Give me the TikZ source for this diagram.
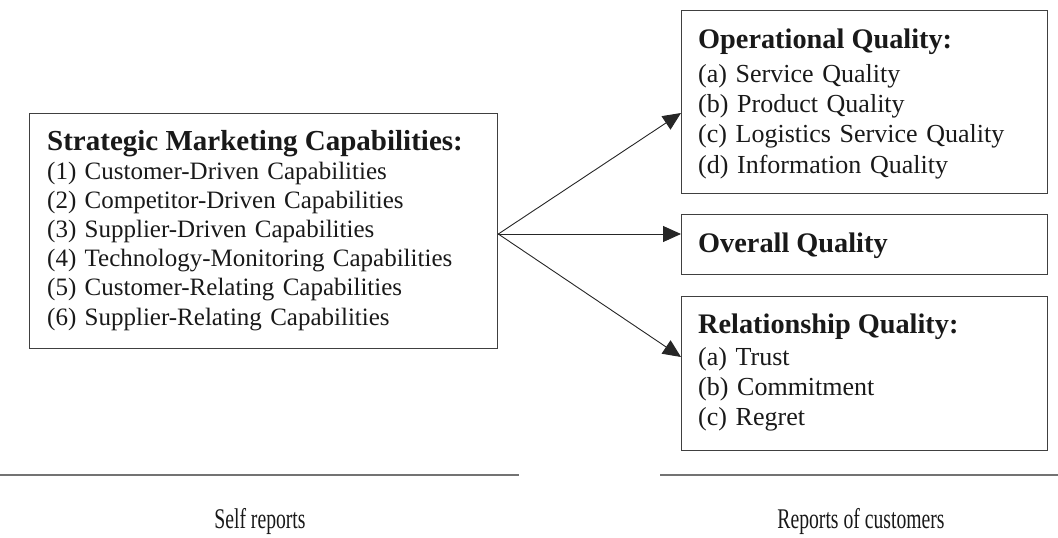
\documentclass[tikz,border=0pt]{standalone}
\usepackage{fontspec}
\setmainfont{Liberation Serif}
\usetikzlibrary{arrows.meta}

\tikzset{
  box/.style={draw=black!75, line width=1.3pt, rectangle, inner sep=0pt, anchor=north west},
  headtext/.style={anchor=base west, inner sep=0pt, text=black!90, font=\bfseries\fontsize{29}{33}\selectfont},
  headtextR/.style={anchor=base west, inner sep=0pt, text=black!90, font=\bfseries\fontsize{28.3}{33}\selectfont},
  listL/.style={anchor=base west, inner sep=0pt, text=black!90, text width=440pt, align=left, font=\fontsize{25}{29.2}\selectfont},
  listR/.style={anchor=base west, inner sep=0pt, text=black!90, text width=340pt, align=left, font=\fontsize{26}{30.4}\selectfont},
  flow/.style={draw=black!85, line width=0.9pt, -{Triangle[length=18pt, width=16pt]}},
  rule/.style={draw=black!55, line width=2pt},
  caption/.style={anchor=base, inner sep=0pt, text=black!90, font=\fontsize{28.5}{32}\selectfont}
}

\begin{document}
\begin{tikzpicture}[x=1pt, y=-1pt]
  \useasboundingbox (0,0) rectangle (1058,538);

  % left block: capabilities (self reported)
  \node[box, minimum width=468pt, minimum height=235pt] (smc) at (29,113) {};
  \node[headtext] (smctitle) at (47,150) {Strategic Marketing Capabilities:};
  \node[listL] (smclist) at (47,179) {%
    (1) Customer-Driven Capabilities\\
    (2) Competitor-Driven Capabilities\\
    (3) Supplier-Driven Capabilities\\
    (4) Technology-Monitoring Capabilities\\
    (5) Customer-Relating Capabilities\\
    (6) Supplier-Relating Capabilities};

  % right blocks: quality outcomes (customer reported)
  \node[box, minimum width=366pt, minimum height=183pt] (op) at (681,10) {};
  \node[headtextR] (optitle) at (698,48) {Operational Quality:};
  \node[listR] (oplist) at (698,82) {%
    (a) Service Quality\\
    (b) Product Quality\\
    (c) Logistics Service Quality\\
    (d) Information Quality};

  \node[box, minimum width=366pt, minimum height=60pt] (ov) at (681,214) {};
  \node[headtextR] (ovtitle) at (698,252) {Overall Quality};

  \node[box, minimum width=366pt, minimum height=154pt] (rq) at (681,296) {};
  \node[headtextR] (rqtitle) at (698,333) {Relationship Quality:};
  \node[listR] (rqlist) at (698,365) {%
    (a) Trust\\
    (b) Commitment\\
    (c) Regret};

  % links
  \coordinate (src) at (smc.east |- 0,234);
  \draw[flow] (src) -- (op.west |- 0,113);
  \draw[flow] (src) -- (ov.west |- 0,234);
  \draw[flow] (src) -- (rq.west |- 0,357);

  % separators and captions
  \coordinate (l1) at (0,475);
  \coordinate (l2) at (519,475);
  \coordinate (r1) at (660,475);
  \coordinate (r2) at (1058,475);
  \draw[rule] (l1) -- (l2);
  \draw[rule] (r1) -- (r2);
  \node[caption] (selfcap) at (260,528) {\scalebox{0.69}[1]{Self reports}};
  \node[caption] (custcap) at (861,528) {\scalebox{0.69}[1]{Reports of customers}};
\end{tikzpicture}
\end{document}
